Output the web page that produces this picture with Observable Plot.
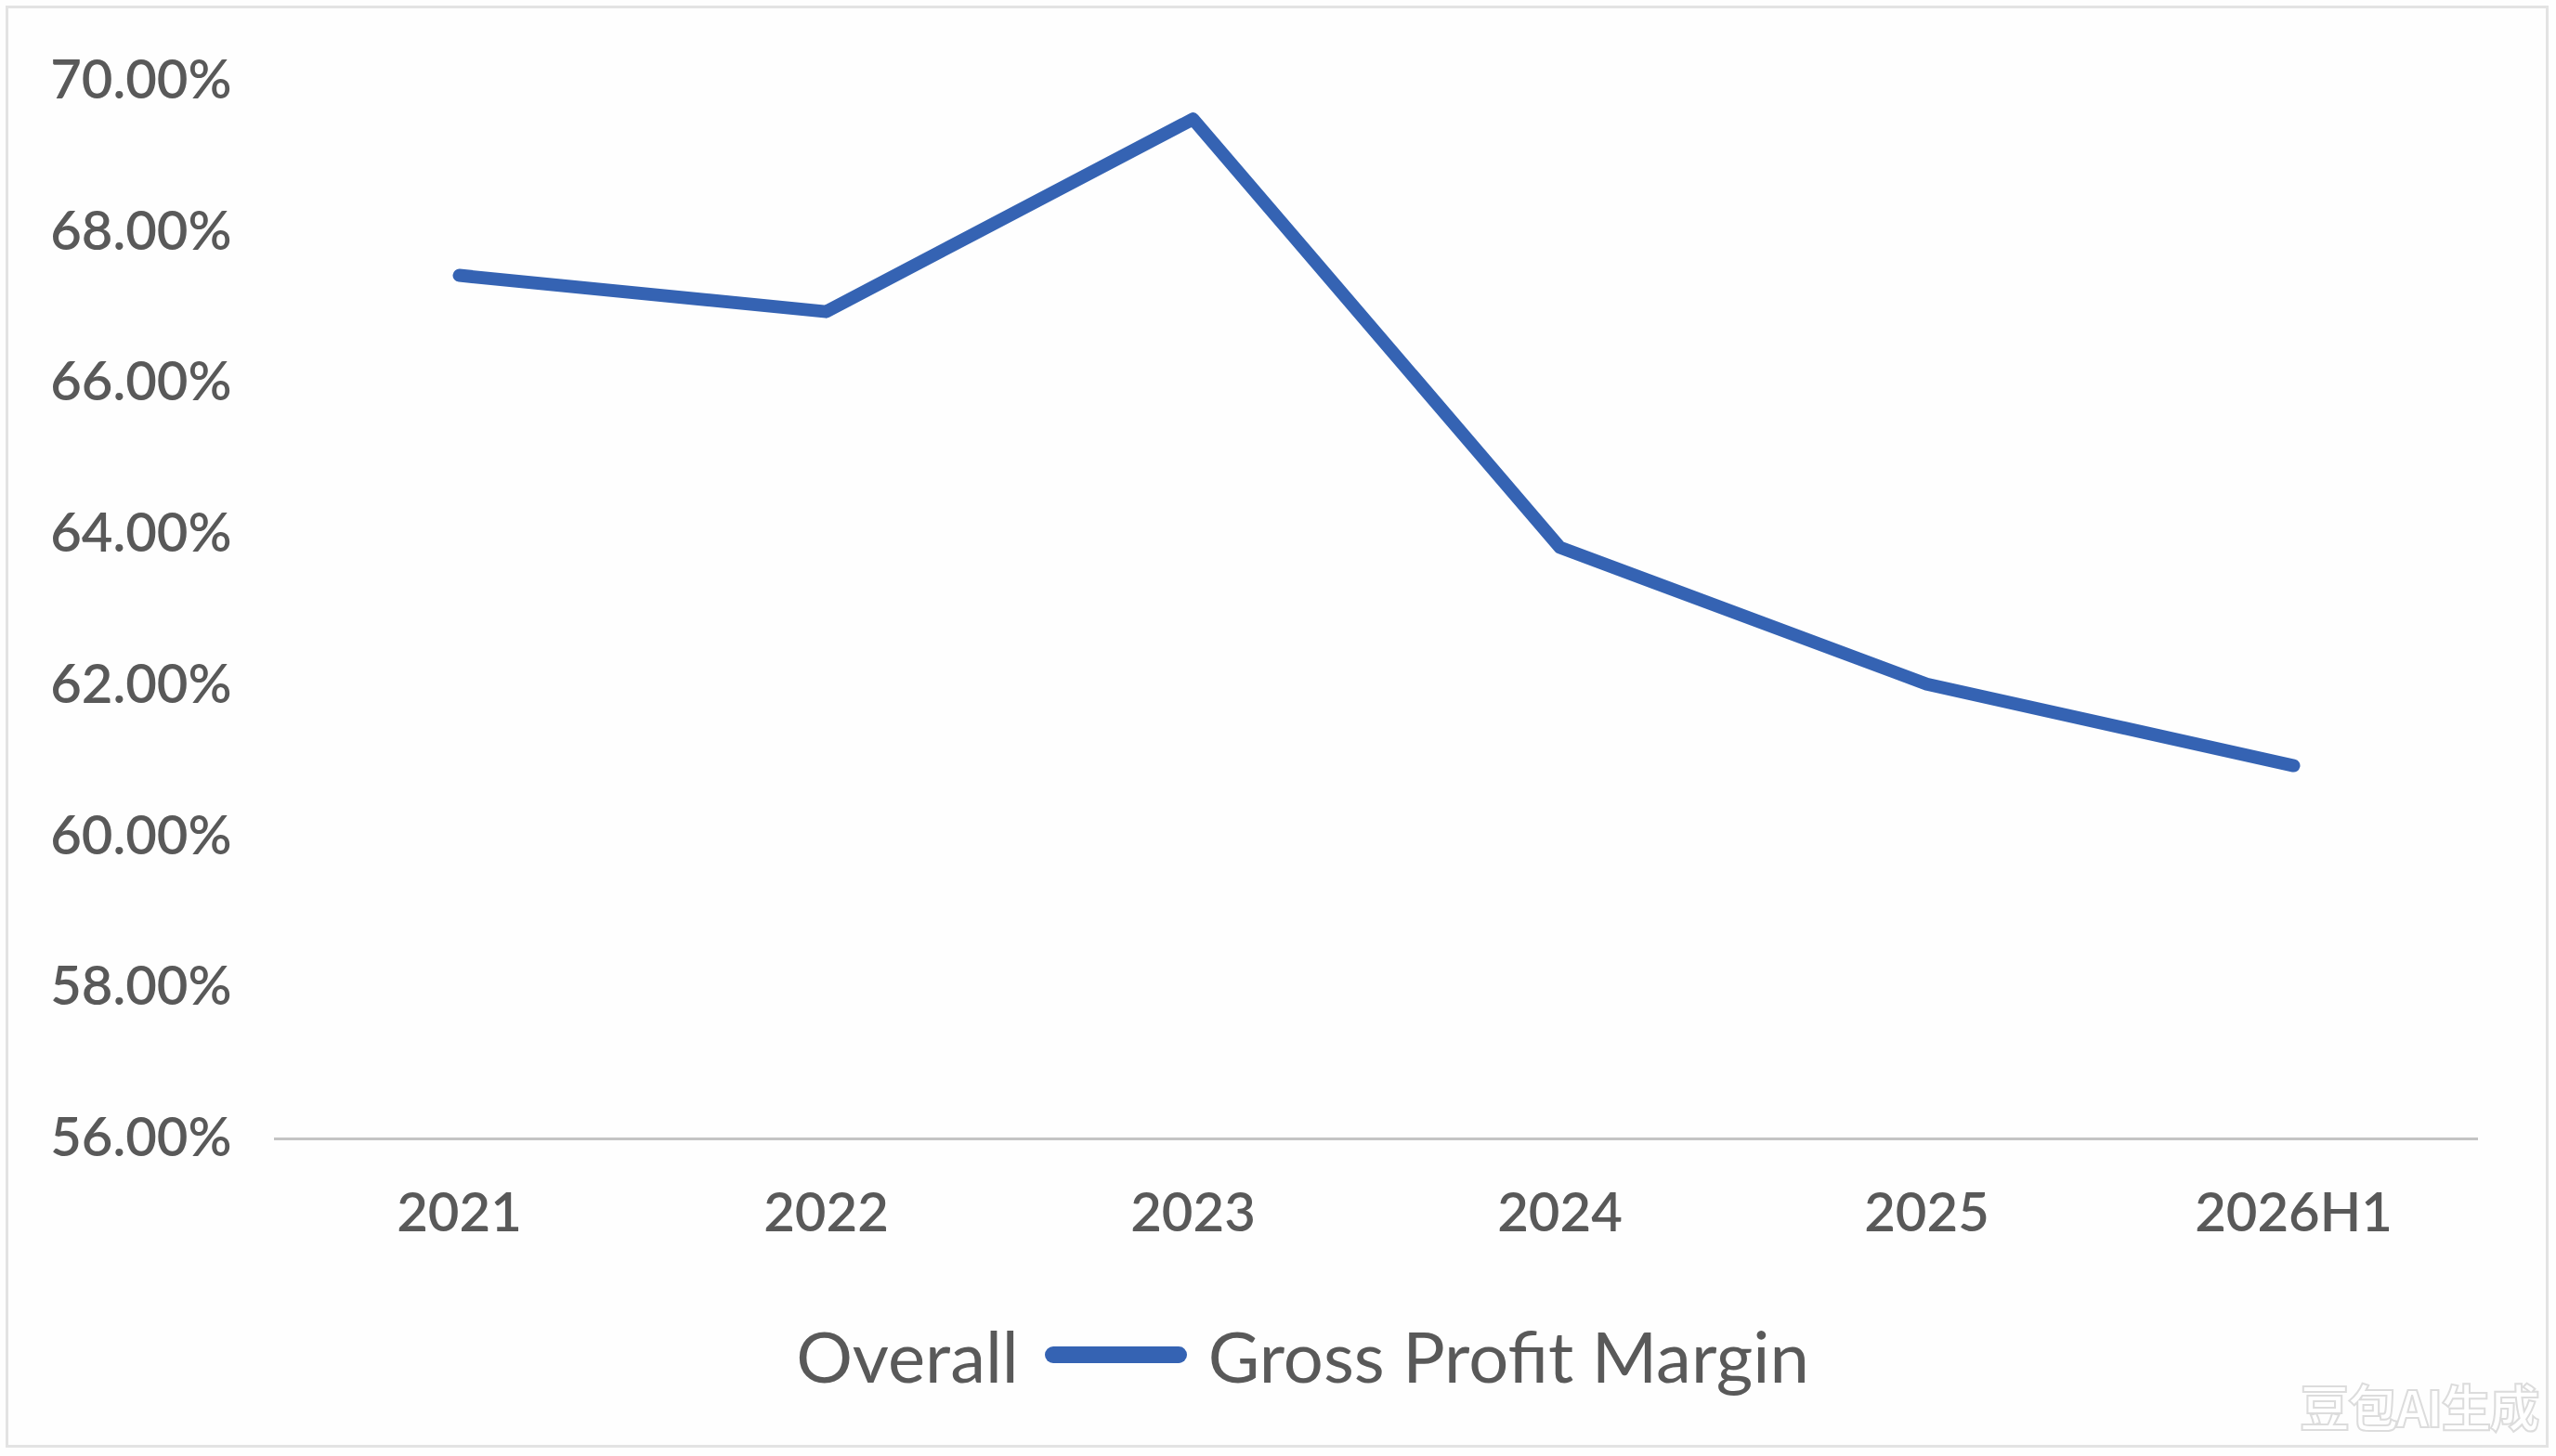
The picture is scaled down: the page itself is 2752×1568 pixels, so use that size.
<!DOCTYPE html>
<html>
<head>
<meta charset="utf-8">
<script src="https://cdn.jsdelivr.net/npm/d3@7"></script>
<script src="https://cdn.jsdelivr.net/npm/@observablehq/plot@0.6"></script>
<style>
  html, body { margin: 0; padding: 0; background: #ffffff; }
  #page { position: relative; width: 2752px; height: 1568px; overflow: hidden; background: #fefefe; }
  #frame { position: absolute; left: 6px; top: 6px; width: 2738px; height: 1553px; border: 3px solid #e3e3e3; box-sizing: border-box; pointer-events: none; }
  #chart { position: absolute; left: 0; top: 0; }
  #legend { position: absolute; left: 0; top: 1390px; width: 2752px; height: 138px; display: flex; align-items: center; justify-content: center; padding-left: 53px; box-sizing: border-box; font-family: Lato, sans-serif; font-size: 76px; color: #595959; }
  #legend .sw { display: inline-block; width: 153px; height: 18px; border-radius: 9px; background: #3563b3; margin: 0 23px 0 28px; }
  #wm { position: absolute; left: 2476px; top: 1474px; font-family: "Noto Sans CJK SC", sans-serif; font-weight: 700; font-size: 54px; color: #ffffff; -webkit-text-stroke: 2px #dcdcdc; letter-spacing: -2px; }
</style>
</head>
<body>
<div id="page">
  <div id="chart"></div>
  <div id="legend"><span>Overall</span><span class="sw"></span><span>Gross Profit Margin</span></div>
  <div id="wm">豆包AI生成</div>
  <div id="frame"></div>
</div>
<script>
const categories = ["2021", "2022", "2023", "2024", "2025", "2026H1"];
const grossMargin = [67.43, 66.95, 69.50, 63.83, 62.02, 60.94];
const yTicks = [56, 58, 60, 62, 64, 66, 68, 70];

const data = categories.map((c, i) => ({ year: c, value: grossMargin[i] }));

const chart = Plot.plot({
  width: 2752,
  height: 1390,
  marginLeft: 295,
  marginRight: 84,
  marginTop: 87,
  marginBottom: 164,
  style: { fontFamily: "Lato, sans-serif", fontSize: "58px", color: "#595959", background: "transparent", fontWeight: 600 },
  x: { type: "point", domain: categories, padding: 0.5 },
  y: { domain: [56, 70] },
  marks: [
    Plot.ruleY([56], { stroke: "#c4c4c4", strokeWidth: 3 }),
    Plot.axisY({ ticks: yTicks, tickFormat: d => d.toFixed(2) + "%", tickSize: 0, tickPadding: 46, label: null }),
    Plot.axisX({ tickSize: 0, tickPadding: 58, label: null }),
    Plot.line(data, { x: "year", y: "value", stroke: "#3563b3", strokeWidth: 14, strokeLinecap: "round", strokeLinejoin: "round" })
  ]
});
document.getElementById("chart").appendChild(chart);
</script>
</body>
</html>
